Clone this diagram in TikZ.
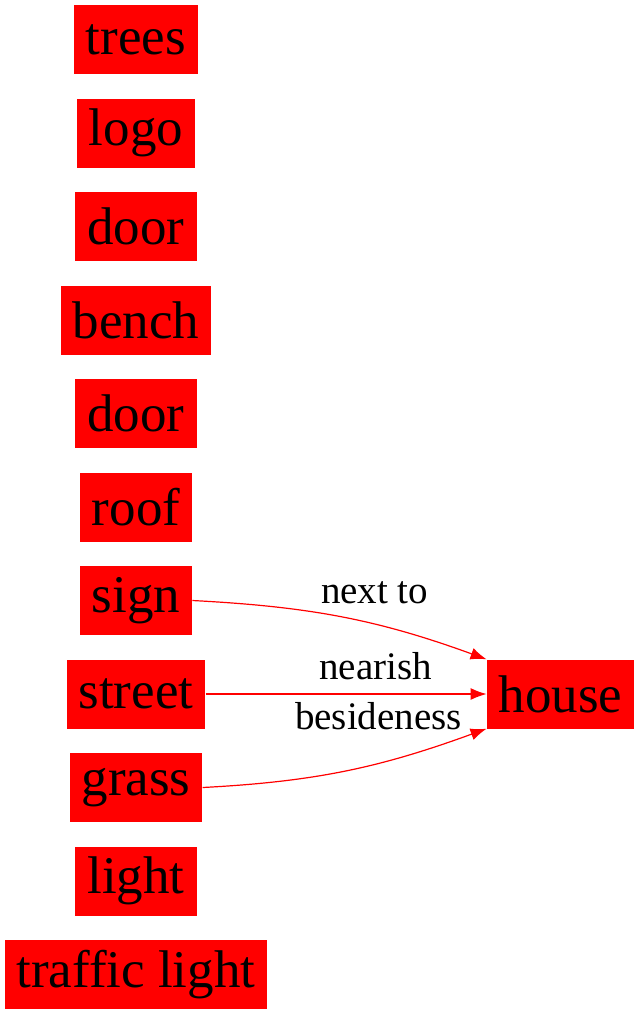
\documentclass[tikz,border=0pt]{standalone}
\usepackage{fontspec}
\setmainfont{Liberation Serif}
\usetikzlibrary{arrows.meta,positioning}

\begin{document}
\begin{tikzpicture}[
    x=1pt, y=1pt,
    node distance=24.1pt and 281pt,
    thing/.style={rectangle, draw=none, fill=red, minimum height=69pt,
                  inner xsep=12pt, inner ysep=4pt,
                  font=\fontsize{53}{60}\selectfont},
    lbl/.style={font=\fontsize{39}{44}\selectfont, text=black, inner sep=1pt},
    arrow/.style={-{Latex[length=16pt,width=12pt]}, red, line width=1.2pt}
]
    \useasboundingbox (0,0) rectangle (640,-1013);
    \node[thing] (trees) at (136,-39.5) {trees};
    \node[thing, below=of trees] (logo) {logo};
    \node[thing, below=of logo] (door) {door};
    \node[thing, below=of door] (bench) {bench};
    \node[thing, below=of bench] (door2) {door};
    \node[thing, below=of door2] (roof) {roof};
    \node[thing, below=of roof] (sign) {sign};
    \node[thing, below=of sign] (street) {street};
    \node[thing, below=of street] (grass) {grass};
    \node[thing, below=of grass] (light) {light};
    \node[thing, below=of light] (traffic) {traffic light};
    \node[thing, right=of street] (house) {house};

    \draw[arrow] (sign.east) to[out=-3, in=160]
        node[lbl, pos=0.62, above=19pt] {next to} (house.north west);
    \draw[arrow] (street) -- node[lbl, pos=0.605, above=13pt] {nearish} (house);
    \draw[arrow] (grass.east) to[out=3, in=-160]
        node[lbl, pos=0.62, above=32pt] {besideness} (house.south west);
\end{tikzpicture}
\end{document}
